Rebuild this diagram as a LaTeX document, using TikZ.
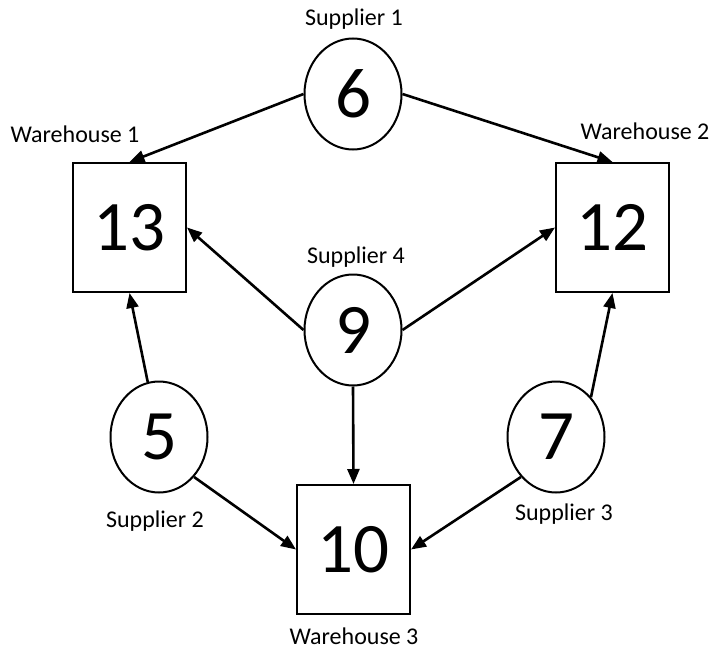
\documentclass[tikz,border=0pt]{standalone}
\usepackage{fontspec}
\setmainfont{Carlito}
\usetikzlibrary{shapes.geometric,arrows.meta}

\tikzset{
  supplier/.style={ellipse, draw, line width=2pt, inner sep=0pt,
    minimum width=97pt, minimum height=111pt,
    font=\fontsize{71}{84}\selectfont},
  warehouse/.style={rectangle, draw, line width=2pt, inner sep=0pt,
    minimum width=113pt, minimum height=129pt,
    font=\fontsize{71}{84}\selectfont},
  caption/.style={font=\fontsize{24}{28}\selectfont, inner sep=0pt},
  flow/.style={line width=2.6pt, -{Triangle[length=15pt,width=12pt]}}
}

\begin{document}
\begin{tikzpicture}[x=1pt, y=-1pt]
  \useasboundingbox (0,0) rectangle (709,650);

  % warehouses
  \node[warehouse] (w1) at (129.5,227.5) {13};
  \node[warehouse] (w2) at (612.5,227.5) {12};
  \node[warehouse] (w3) at (353.5,549.5) {10};

  % suppliers
  \node[supplier] (s1) at (353,94)  {6};
  \node[supplier] (s4) at (353,330) {9};
  \node[supplier] (s2) at (159,437) {5};
  \node[supplier] (s3) at (556,437) {7};

  % captions
  \node[caption] (c1) at (354,19)  {Supplier 1};
  \node[caption] (c4) at (356,257) {Supplier 4};
  \node[caption] (c2) at (155,521) {Supplier 2};
  \node[caption] (c3) at (564,514) {Supplier 3};
  \node[caption] (d1) at (75,134)  {Warehouse 1};
  \node[caption] (d2) at (645,131) {Warehouse 2};
  \node[caption] (d3) at (354,636) {Warehouse 3};

  % flows
  \draw[flow] (s1.west) -- (w1.north);
  \draw[flow] (s1.east) -- (w2.north);
  \draw[flow] (s4.west) -- (w1.east);
  \draw[flow] (s4.east) -- (w2.west);
  \draw[flow] (s4.south) -- (w3.north);
  \draw[flow] (s2) -- (w1.south);
  \draw[flow] (s3.north east) -- (w2.south);
  \draw[flow] (s2.south east) -- (w3.west);
  \draw[flow] (s3.south west) -- (w3.east);
\end{tikzpicture}
\end{document}
